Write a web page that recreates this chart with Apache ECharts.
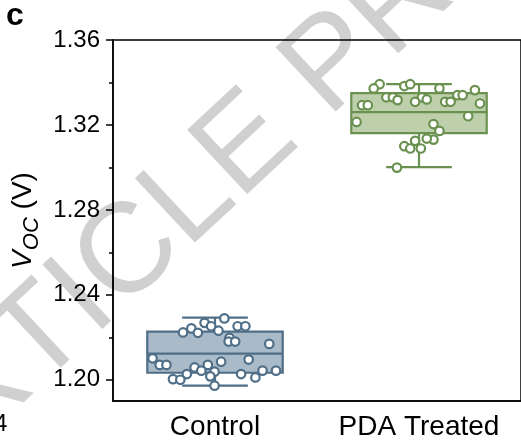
<!DOCTYPE html>
<html>
<head>
<meta charset="utf-8">
<script src="https://cdn.jsdelivr.net/npm/echarts@6/dist/echarts.min.js"></script>
<style>
html, body { margin: 0; padding: 0; background: #fff; }
#chart { width: 521px; height: 441px; }
</style>
</head>
<body>
<div id="chart"></div>
<script>
var groups = ['Control', 'PDA Treated'];
var yTicks = [1.20, 1.24, 1.28, 1.32, 1.36];
var yMinorTicks = [1.22, 1.26, 1.30, 1.34];

// box stats: [centre, min, q1, median, q3, max]
var controlBox = [0.5, 1.1972, 1.2033, 1.2123, 1.2227, 1.2293];
var pdaBox = [1.5, 1.3001, 1.3161, 1.3260, 1.3350, 1.3392];

// individual cells: [jittered x, Voc]
var controlPoints = [
    [0.546, 1.2289], [0.449, 1.2268], [0.481, 1.2252], [0.384, 1.2242],
    [0.343, 1.2223], [0.416, 1.2221], [0.517, 1.2231], [0.611, 1.2252],
    [0.649, 1.2252], [0.571, 1.2197], [0.567, 1.2180], [0.599, 1.2180],
    [0.766, 1.2169], [0.194, 1.2101], [0.229, 1.2070], [0.262, 1.2070],
    [0.530, 1.2085], [0.665, 1.2095], [0.465, 1.2070], [0.400, 1.2058],
    [0.433, 1.2043], [0.362, 1.2027], [0.498, 1.2038], [0.477, 1.2016],
    [0.628, 1.2027], [0.733, 1.2043], [0.799, 1.2043], [0.698, 1.2011],
    [0.294, 1.2003], [0.330, 1.2000], [0.498, 1.1972]
];
var pdaPoints = [
    [1.307, 1.3392], [1.278, 1.3372], [1.428, 1.3383], [1.457, 1.3392],
    [1.600, 1.3372], [1.774, 1.3364], [1.340, 1.3330], [1.372, 1.3330],
    [1.395, 1.3317], [1.514, 1.3330], [1.538, 1.3320], [1.481, 1.3309],
    [1.628, 1.3309], [1.655, 1.3309], [1.688, 1.3340], [1.714, 1.3340],
    [1.799, 1.3301], [1.221, 1.3293], [1.249, 1.3293], [1.741, 1.3241],
    [1.194, 1.3214], [1.571, 1.3204], [1.600, 1.3172], [1.571, 1.3131],
    [1.538, 1.3136], [1.481, 1.3125], [1.428, 1.3100], [1.457, 1.3089],
    [1.509, 1.3089], [1.392, 1.2999]
];

var lineColors = ['#4f6e88', '#6b9150'];
var fillColors = ['#a9bac9', '#bdd0ab'];
var boxHalf = 0.332;
var capHalf = 0.161;
var font = '"Liberation Sans", Arial, sans-serif';

function renderBox(params, api) {
    var c = api.value(0);
    var color = lineColors[params.dataIndex];
    var lw = 2.2;
    var tl = api.coord([c - boxHalf, api.value(4)]);
    var br = api.coord([c + boxHalf, api.value(2)]);
    var med = api.coord([c, api.value(3)]);
    var top = api.coord([c, api.value(5)]);
    var bot = api.coord([c, api.value(1)]);
    var capL = api.coord([c - capHalf, 0])[0];
    var capR = api.coord([c + capHalf, 0])[0];
    var lineStyle = { stroke: color, lineWidth: lw };
    return {
        type: 'group',
        children: [
            { type: 'line', shape: { x1: top[0], y1: top[1], x2: top[0], y2: tl[1] }, style: lineStyle },
            { type: 'line', shape: { x1: bot[0], y1: bot[1], x2: bot[0], y2: br[1] }, style: lineStyle },
            { type: 'line', shape: { x1: capL, y1: top[1], x2: capR, y2: top[1] }, style: lineStyle },
            { type: 'line', shape: { x1: capL, y1: bot[1], x2: capR, y2: bot[1] }, style: lineStyle },
            { type: 'rect', shape: { x: tl[0], y: tl[1], width: br[0] - tl[0], height: br[1] - tl[1] },
              style: { fill: fillColors[params.dataIndex], stroke: color, lineWidth: lw } },
            { type: 'line', shape: { x1: tl[0], y1: med[1], x2: br[0], y2: med[1] }, style: lineStyle }
        ]
    };
}

var chart = echarts.init(document.getElementById('chart'));
chart.setOption({
    animation: false,
    grid: { left: 113, right: -2, top: 40, bottom: 40, show: true, borderColor: '#000', borderWidth: 1.5 },
    graphic: [
        { type: 'text', x: -116, y: 484, rotation: 0.75, z: -100,
          style: { text: 'ARTICLE PREVIEW', font: '128px ' + font, fill: '#d0d0d0',
                   textAlign: 'left', textVerticalAlign: 'middle', align: 'left', verticalAlign: 'middle' } },
        { type: 'text', left: 6, top: 0,
          style: { text: 'c', font: 'bold 32px ' + font, fill: '#000' } },
        { type: 'text', left: -6, top: 412,
          style: { text: '4', font: '24px ' + font, fill: '#000' } }
    ],
    xAxis: [
        {
            type: 'category',
            data: groups,
            position: 'bottom',
            axisLine: { lineStyle: { color: '#000', width: 1.5 } },
            axisTick: { alignWithLabel: true, length: 6, lineStyle: { color: '#000', width: 1.5 } },
            axisLabel: { interval: 0, showMaxLabel: true, hideOverlap: false, color: '#000', fontSize: 28, fontFamily: font, margin: 12 },
            splitLine: { show: false }
        },
        { type: 'value', min: 0, max: 2, show: false, position: 'bottom' }
    ],
    yAxis: [
        {
            type: 'value',
            min: 1.19,
            max: 1.36,
            position: 'left',
            name: '{i|V}{s|OC}{n| (V)}',
            nameLocation: 'middle',
            nameRotate: 90,
            nameGap: 68,
            nameTextStyle: {
                rich: {
                    i: { fontSize: 28, fontStyle: 'italic', fontFamily: font, color: '#000' },
                    s: { fontSize: 22, fontStyle: 'italic', fontFamily: font, color: '#000', padding: [16, 0, 0, 0] },
                    n: { fontSize: 28, fontFamily: font, color: '#000' }
                }
            },
            axisLine: { show: true, lineStyle: { color: '#000', width: 1.5 } },
            axisTick: { show: true, length: 7, customValues: yTicks, lineStyle: { color: '#000', width: 1.5 } },
            axisLabel: {
                customValues: yTicks, color: '#000', fontSize: 24, fontFamily: font, margin: 13,
                formatter: function (v) { return v.toFixed(2); }
            },
            splitLine: { show: false }
        },
        {
            type: 'value',
            min: 1.19,
            max: 1.36,
            position: 'left',
            axisLine: { show: false },
            axisTick: { show: true, length: 4, customValues: yMinorTicks, lineStyle: { color: '#000', width: 1.5 } },
            axisLabel: { show: false },
            splitLine: { show: false }
        }
    ],
    series: [
        {
            type: 'custom',
            xAxisIndex: 1,
            yAxisIndex: 0,
            renderItem: renderBox,
            encode: { x: 0, y: [1, 2, 3, 4, 5] },
            data: [controlBox, pdaBox],
            z: 2
        },
        {
            type: 'scatter',
            xAxisIndex: 1,
            yAxisIndex: 0,
            symbolSize: 8.5,
            itemStyle: { color: '#fff', borderColor: lineColors[0], borderWidth: 2.2, opacity: 1 },
            data: controlPoints,
            z: 3
        },
        {
            type: 'scatter',
            xAxisIndex: 1,
            yAxisIndex: 0,
            symbolSize: 8.5,
            itemStyle: { color: '#fff', borderColor: lineColors[1], borderWidth: 2.2, opacity: 1 },
            data: pdaPoints,
            z: 3
        }
    ]
});
</script>
</body>
</html>
